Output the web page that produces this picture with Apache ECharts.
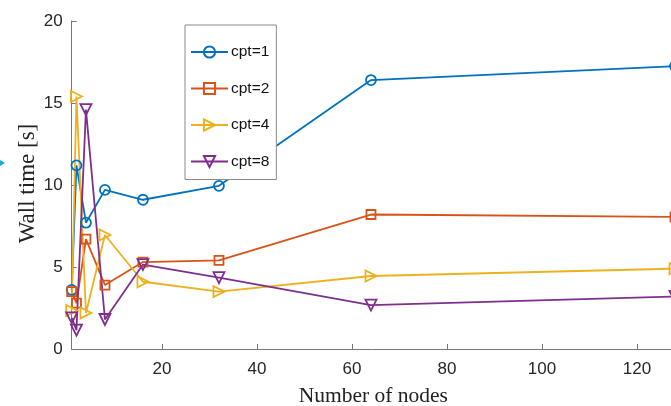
<!DOCTYPE html>
<html>
<head>
<meta charset="utf-8">
<script src="https://cdn.jsdelivr.net/npm/echarts@6/dist/echarts.min.js"></script>
<style>html,body{margin:0;padding:0;background:#fff}#c{width:671px;height:406px}</style>
</head>
<body>
<div id="c"></div>
<script>
const nodes = [1, 2, 4, 8, 16, 32, 64, 128];
const cpt1 = [3.6, 11.2, 7.7, 9.7, 9.1, 9.95, 16.4, 17.25];
const cpt2 = [3.5, 2.8, 6.7, 3.9, 5.3, 5.4, 8.2, 8.05];
const cpt4 = [2.35, 15.4, 2.2, 6.95, 4.1, 3.5, 4.45, 4.9];
const cpt8 = [1.9, 1.15, 14.6, 1.8, 5.15, 4.35, 2.68, 3.2];
const xTicks = [20, 40, 60, 80, 100, 120];
const seriesNames = ['cpt=1', 'cpt=2', 'cpt=4', 'cpt=8'];
const colors = ['#0072BD', '#D95319', '#EDB120', '#7E2F8E'];

const pairs = v => nodes.map((n, i) => [n, v[i]]);
const symbols = [['circle', 0, 10], ['rect', 0, 9], ['triangle', -90, 11], ['triangle', 180, 11]];
const allData = [cpt1, cpt2, cpt4, cpt8];

const chart = echarts.init(document.getElementById('c'), null, {renderer: 'canvas'});
chart.setOption({
  animation: false,
  backgroundColor: '#fff',
  grid: {left: 71.7, right: -4, top: 21, bottom: 57, containLabel: false, outerBoundsMode: 'none'},
  legend: {
    orient: 'vertical', left: 185, top: 25,
    backgroundColor: '#fff', borderColor: '#8a8a8a', borderWidth: 1, borderRadius: 0,
    padding: [19, 7, 10, 5], itemGap: 20.5, itemWidth: 37, itemHeight: 14,
    textStyle: {fontFamily: 'Liberation Sans, Arial, sans-serif', fontSize: 15.5, color: '#111', padding: [0, 0, 0, -2]},
    data: seriesNames
  },
  graphic: [{
    type: 'polygon', shape: {points: [[0, 160], [5, 163], [0, 166]]},
    style: {fill: '#19a7e0'}
  }],
  xAxis: {
    type: 'value', min: 1, max: 128,
    name: 'Number of nodes', nameLocation: 'middle', nameGap: 36, nameMoveOverlap: false,
    nameTextStyle: {fontFamily: 'Liberation Serif, serif', fontSize: 21.5, color: '#222'},
    axisLine: {lineStyle: {color: '#777', width: 1}},
    axisTick: {inside: true, length: 5, lineStyle: {color: '#777'}, customValues: xTicks},
    axisLabel: {customValues: xTicks, margin: 12, fontFamily: 'Liberation Sans, Arial, sans-serif', fontSize: 17, color: '#262626'},
    splitLine: {show: false}
  },
  yAxis: {
    type: 'value', min: 0, max: 20, interval: 5,
    name: 'Wall time [s]', nameLocation: 'middle', nameGap: 32, nameMoveOverlap: false,
    nameTextStyle: {fontFamily: 'Liberation Serif, serif', fontSize: 23, color: '#222', padding: [0, 0, 0, 3]},
    axisLine: {show: true, lineStyle: {color: '#777', width: 1}},
    axisTick: {show: true, inside: true, length: 5, lineStyle: {color: '#777'}},
    axisLabel: {margin: 9, fontFamily: 'Liberation Sans, Arial, sans-serif', fontSize: 17, color: '#262626'},
    splitLine: {show: false}
  },
  series: seriesNames.map((name, k) => ({
    name, type: 'line', data: pairs(allData[k]), clip: false,
    symbol: symbols[k][0], symbolRotate: symbols[k][1], symbolSize: symbols[k][2],
    showAllSymbol: true,
    color: colors[k],
    lineStyle: {color: colors[k], width: 1.8},
    itemStyle: {color: 'rgba(255,255,255,0)', borderColor: colors[k], borderWidth: 1.8}
  }))
});
</script>
</body>
</html>
